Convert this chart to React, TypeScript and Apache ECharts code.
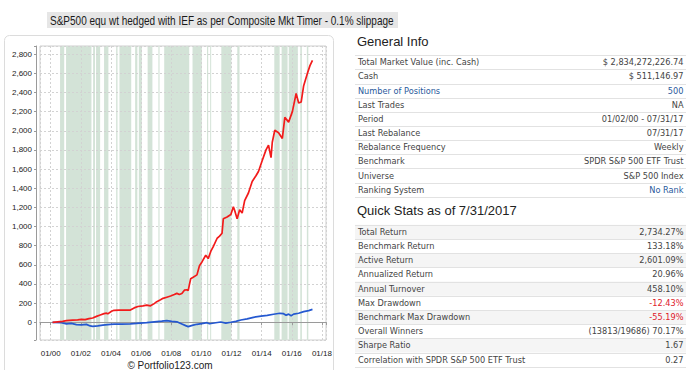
import React, { useEffect, useRef } from "react";
import * as echarts from "echarts";

// ---------- DATA ----------
const TITLE = "S&P500 equ wt hedged with IEF as per Composite Mkt Timer - 0.1% slippage";

const portfolioDates = [
  "2000-02", "2000-06", "2000-10", "2001-01", "2001-06", "2001-10", "2002-01", "2002-04", "2002-07", "2002-10",
  "2003-01", "2003-04", "2003-07", "2003-09", "2003-10", "2004-01", "2004-03", "2004-07", "2004-11", "2005-04",
  "2005-07", "2005-10", "2006-02", "2006-05", "2006-08", "2006-11", "2007-01", "2007-04", "2007-06", "2007-09",
  "2007-12", "2008-03", "2008-05", "2008-07", "2008-09", "2008-11", "2009-01", "2009-02", "2009-04", "2009-06",
  "2009-09", "2009-11", "2010-01", "2010-04", "2010-06", "2010-08", "2010-10", "2011-01", "2011-03", "2011-05",
  "2011-06", "2011-09", "2011-12", "2012-02", "2012-03", "2012-05", "2012-07", "2012-09", "2012-11", "2013-02",
  "2013-05", "2013-08", "2013-10", "2014-01", "2014-04", "2014-06", "2014-08", "2014-09", "2014-11", "2015-02",
  "2015-05", "2015-07", "2015-10", "2016-01", "2016-04", "2016-06", "2016-08", "2016-10", "2017-01", "2017-03",
  "2017-05",
];
const portfolioValues = [
  0, 5, 10, 17, 22, 25, 31, 28, 38, 45,
  62, 76, 90, 95, 88, 115, 125, 127, 128, 128,
  150, 165, 172, 180, 172, 195, 215, 235, 250, 262,
  274, 290, 302, 290, 300, 335, 340, 330, 455, 470,
  495, 590, 630, 700, 665, 740, 790, 875, 900, 930,
  1080, 1100, 1125, 1205, 1170, 1080, 1175, 1140, 1270, 1350,
  1470, 1530, 1575, 1690, 1800, 1850, 1720, 1880, 2005, 1980,
  1920, 2140, 2090, 2200, 2390, 2290, 2300, 2470, 2600, 2680,
  2736,
];

const benchmarkDates = [
  "2000-02", "2000-09", "2001-01", "2001-05", "2001-09", "2002-01", "2002-05", "2002-08", "2002-10", "2003-02",
  "2003-06", "2003-12", "2004-03", "2004-09", "2005-04", "2005-09", "2006-05", "2006-11", "2007-05", "2007-09",
  "2008-01", "2008-05", "2008-09", "2008-12", "2009-02", "2009-06", "2009-09", "2010-03", "2010-05", "2010-07",
  "2010-12", "2011-04", "2011-08", "2011-12", "2012-04", "2012-08", "2013-01", "2013-06", "2013-12", "2014-05",
  "2014-10", "2015-03", "2015-06", "2015-08", "2015-10", "2015-12", "2016-02", "2016-06", "2016-10", "2017-02",
  "2017-05",
];
const benchmarkValues = [
  0, -5, -17, -12, -25, -28, -22, -38, -42, -38,
  -30, -22, -20, -19, -17, -12, -4, 5, 12, 17,
  10, 5, -17, -35, -45, -30, -21, -8, -4, -15,
  -5, 3, -8, 0, 10, 24, 35, 52, 65, 73,
  84, 94, 90, 73, 85, 69, 85, 94, 111, 122,
  135,
];

// hedged periods (shaded)
const hedgeStarts = [
  "2000-08-15", "2001-01-08", "2002-10-25", "2003-01-05", "2003-07-16", "2004-05-05", "2004-07-24", "2005-08-08",
  "2005-11-07", "2006-06-07", "2007-02-24", "2007-07-13", "2009-05-30", "2010-05-16", "2010-07-31", "2011-04-27",
  "2012-05-19", "2014-11-03", "2015-04-28", "2015-10-19", "2016-07-24", "2017-01-01",
];
const hedgeEnds = [
  "2000-11-24", "2002-09-15", "2002-12-09", "2003-04-12", "2003-10-30", "2004-06-07", "2005-05-05", "2005-10-01",
  "2006-01-19", "2006-10-01", "2007-03-22", "2009-03-11", "2010-01-12", "2010-06-14", "2010-08-25", "2011-12-28",
  "2012-07-13", "2015-03-11", "2015-09-20", "2016-05-26", "2016-09-02", "2017-02-06",
];

const generalLabels = [
  "Total Market Value (inc. Cash)", "Cash", "Number of Positions", "Last Trades", "Period",
  "Last Rebalance", "Rebalance Frequency", "Benchmark", "Universe", "Ranking System",
];
const generalValues = [
  "$ 2,834,272,226.74", "$ 511,146.97", "500", "NA", "01/02/00 - 07/31/17",
  "07/31/17", "Weekly", "SPDR S&P 500 ETF Trust", "S&P 500 Index", "No Rank",
];
const generalBlueLabels = ["Number of Positions"];
const generalBlueValues = ["500", "No Rank"];

const statsLabels = [
  "Total Return", "Benchmark Return", "Active Return", "Annualized Return", "Annual Turnover",
  "Max Drawdown", "Benchmark Max Drawdown", "Overall Winners", "Sharpe Ratio", "Correlation with SPDR S&P 500 ETF Trust",
];
const statsValues = [
  "2,734.27%", "133.18%", "2,601.09%", "20.96%", "458.10%",
  "-12.43%", "-55.19%", "(13813/19686) 70.17%", "1.67", "0.27",
];

// ---------- HELPERS ----------
const toYear = (s: string) => {
  const parts = s.split("-").map(Number);
  const y = parts[0];
  const m = parts[1];
  const d = parts.length > 2 ? parts[2] : 15;
  return y + (m - 1 + (d - 1) / 30.4) / 12;
};

const X_MIN = 1999.29;
const X_MAX = 2018.27;
const Y_MIN = -185;
const Y_MAX = 2885;

export default function App() {
  const ref = useRef<HTMLDivElement>(null);

  useEffect(() => {
    if (!ref.current) return;
    const chart = echarts.init(ref.current, undefined, { renderer: "svg" });

    const tableFont = "DejaVu Sans";
    const tableSize = 8.2;
    const labelColor = "#444";
    const blue = "#2a5a9c";
    const red = "#e0202a";

    const graphics: any[] = [];
    // title
    graphics.push({ type: "rect", shape: { x: 47, y: 12, width: 351, height: 16 }, style: { fill: "#e6e6e6" }, z: 0 });
    graphics.push({
      type: "text", x: 50, y: 20, z: 1, scaleX: 0.77, scaleY: 1,
      style: { text: TITLE, fill: "#1a1a1a", fontSize: 13, fontFamily: "Liberation Sans", align: "left", verticalAlign: "middle" },
    });
    // chart panel border
    graphics.push({ type: "rect", shape: { x: 4.5, y: 35.5, width: 329, height: 350, r: 5 }, style: { fill: "none", stroke: "#dcdcdc", lineWidth: 1 }, z: 0 });
    graphics.push({
      type: "text", x: 170, y: 365.5, z: 1,
      style: { text: "© Portfolio123.com", fill: "#222", fontSize: 10, fontFamily: "Liberation Sans", align: "center", verticalAlign: "middle" },
    });

    // General Info
    graphics.push({
      type: "text", x: 357, y: 41, z: 1,
      style: { text: "General Info", fill: "#222", fontSize: 13, fontFamily: "Liberation Sans", align: "left", verticalAlign: "middle" },
    });
    for (let i = 0; i <= generalLabels.length; i++) {
      const ly = Math.round(55.2 + i * 14.15) + 0.5;
      graphics.push({ type: "line", shape: { x1: 355, y1: ly, x2: 686, y2: ly }, style: { stroke: "#e2e2e2", lineWidth: 1 }, z: 1 });
    }
    generalLabels.forEach((lab, i) => {
      const cy = 62.3 + i * 14.15;
      graphics.push({
        type: "text", x: 358, y: cy, z: 2,
        style: { text: lab, fill: generalBlueLabels.includes(lab) ? blue : labelColor, fontSize: tableSize, fontFamily: tableFont, align: "left", verticalAlign: "middle" },
      });
      const val = generalValues[i];
      graphics.push({
        type: "text", x: 683.5, y: cy, z: 2,
        style: { text: val, fill: generalBlueValues.includes(val) ? blue : labelColor, fontSize: tableSize, fontFamily: tableFont, align: "right", verticalAlign: "middle" },
      });
    });

    // Quick Stats
    graphics.push({
      type: "text", x: 357, y: 210, z: 1,
      style: { text: "Quick Stats as of 7/31/2017", fill: "#222", fontSize: 13, fontFamily: "Liberation Sans", align: "left", verticalAlign: "middle" },
    });
    statsLabels.forEach((_, i) => {
      if (i % 2 === 0) {
        const top = 224.8 + i * 14.2;
        graphics.push({ type: "rect", shape: { x: 355, y: top, width: 331, height: 14.2 }, style: { fill: "#f5f5f5" }, z: 0 });
      }
    });
    for (let i = 0; i <= statsLabels.length; i++) {
      const ly = Math.round(224.8 + i * 14.2) + 0.5;
      graphics.push({ type: "line", shape: { x1: 355, y1: ly, x2: 686, y2: ly }, style: { stroke: "#e2e2e2", lineWidth: 1 }, z: 1 });
    }
    statsLabels.forEach((lab, i) => {
      const cy = 231.8 + i * 14.2;
      graphics.push({
        type: "text", x: 358, y: cy, z: 2,
        style: { text: lab, fill: labelColor, fontSize: tableSize, fontFamily: tableFont, align: "left", verticalAlign: "middle" },
      });
      const val = statsValues[i];
      graphics.push({
        type: "text", x: 683.5, y: cy, z: 2,
        style: { text: val, fill: val.startsWith("-") ? red : labelColor, fontSize: tableSize, fontFamily: tableFont, align: "right", verticalAlign: "middle" },
      });
    });

    const isInt = (v: number) => Math.abs(v - Math.round(v)) < 1e-6;

    chart.setOption({
      animation: false,
      backgroundColor: "#ffffff",
      graphic: graphics,
      grid: { left: 40, top: 46, width: 286, height: 294, show: true, borderColor: "#cfcfcf", borderWidth: 1, backgroundColor: "transparent" },
      xAxis: {
        type: "value", min: X_MIN, max: X_MAX, offset: 4, minInterval: 2, maxInterval: 2, z: 2,
        axisLine: { show: true, lineStyle: { color: "#9a9a9a", width: 1 } },
        axisTick: { show: true, length: 3, lineStyle: { color: "#9a9a9a" } },
        axisLabel: {
          margin: 5, fontSize: 8, fontFamily: "Liberation Sans", color: "#222",
          formatter: (v: number) => (isInt(v) && Math.round(v) % 2 === 0 ? "01/" + String(Math.round(v) % 100).padStart(2, "0") : ""),
        },
        splitLine: { show: true, lineStyle: { color: "#d2d2d2", type: [2, 2], width: 1 } },
      },
      yAxis: {
        type: "value", min: Y_MIN, max: Y_MAX, offset: 4, minInterval: 200, maxInterval: 200, z: 2,
        axisLine: { show: true, lineStyle: { color: "#9a9a9a", width: 1 } },
        axisTick: { show: true, length: 2, lineStyle: { color: "#9a9a9a" } },
        axisLabel: {
          margin: 4, fontSize: 8, fontFamily: "Liberation Sans", color: "#222",
          formatter: (v: number) => (isInt(v) && Math.round(v) % 200 === 0 ? Math.round(v).toLocaleString("en-US") : ""),
        },
        splitLine: { show: true, lineStyle: { color: "#d2d2d2", type: [2, 2], width: 1 } },
      },
      series: [
        {
          name: "Hedged", type: "line", data: [], silent: true, z: 1,
          markArea: {
            silent: true, z: 1,
            itemStyle: { color: "#d3e3d7" },
            data: hedgeStarts.map((s, i) => [{ xAxis: toYear(s) }, { xAxis: toYear(hedgeEnds[i]) }]),
          },
        },
        {
          name: "Portfolio", type: "line", z: 4, showSymbol: false, symbol: "none",
          data: portfolioDates.map((d, i) => [toYear(d), portfolioValues[i]]),
          lineStyle: { color: "#f21b1b", width: 1.7 },
        },
        {
          name: "Benchmark", type: "line", z: 3, showSymbol: false, symbol: "none",
          data: benchmarkDates.map((d, i) => [toYear(d), benchmarkValues[i]]),
          lineStyle: { color: "#2458d0", width: 1.7 },
        },
      ],
    });

    return () => chart.dispose();
  }, []);

  return <div ref={ref} style={{ position: "fixed", left: 0, top: 0, width: 690, height: 370 }} />;
}
